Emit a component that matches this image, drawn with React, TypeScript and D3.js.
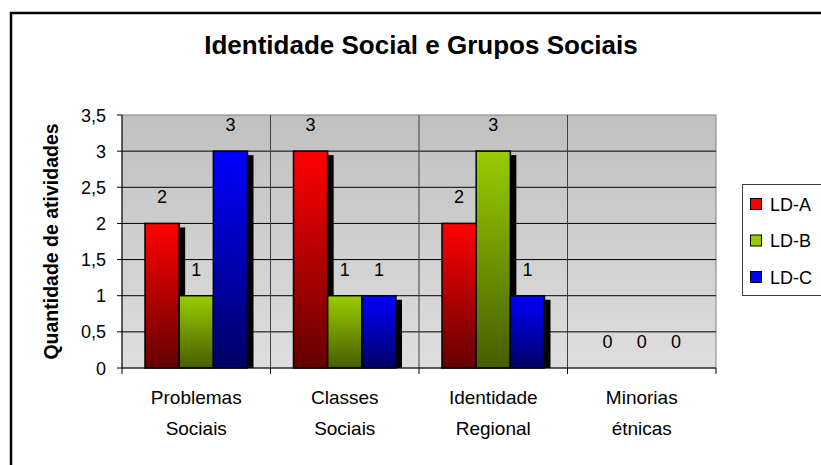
import React from 'react';
import * as d3 from 'd3';

const categories = [
  ['Problemas', 'Sociais'],
  ['Classes', 'Sociais'],
  ['Identidade', 'Regional'],
  ['Minorias', 'étnicas'],
];
const seriesNames = ['LD-A', 'LD-B', 'LD-C'];
const ldA = [2, 3, 2, 0];
const ldB = [1, 1, 3, 0];
const ldC = [3, 1, 1, 0];
const yTicks = [0, 0.5, 1, 1.5, 2, 2.5, 3, 3.5];

const seriesValues = [ldA, ldB, ldC];
const gradients = [
  ['#ff0000', '#640000'],
  ['#99cc00', '#465e00'],
  ['#0000ff', '#000064'],
];

const W = 821;
const H = 465;
const plot = { left: 122, right: 716, top: 115, bottom: 368 };
const font = '"Liberation Sans", Arial, sans-serif';

const App: React.FC = () => {
  const x = d3
    .scaleBand<number>()
    .domain(categories.map((_, i) => i))
    .range([plot.left, plot.right])
    .padding(0);
  const gap = 23;
  const xInner = d3
    .scaleBand<number>()
    .domain(seriesNames.map((_, i) => i))
    .range([gap, x.bandwidth() - gap])
    .padding(0);
  const y = d3.scaleLinear().domain([0, 3.5]).range([plot.bottom, plot.top]);
  const fmt = (v: number) => String(v).replace('.', ',');

  return (
    <svg
      width={W}
      height={H}
      style={{ position: 'absolute', left: 0, top: 0, background: '#fff' }}
      fontFamily={font}
    >
      <defs>
        <linearGradient id="bg" x1="0" y1="0" x2="0" y2="1">
          <stop offset="0" stopColor="#c0c0c0" />
          <stop offset="1" stopColor="#dedede" />
        </linearGradient>
        {gradients.map((g, i) => (
          <linearGradient key={i} id={`g${i}`} x1="0" y1="0" x2="0" y2="1">
            <stop offset="0" stopColor={g[0]} />
            <stop offset="1" stopColor={g[1]} />
          </linearGradient>
        ))}
      </defs>

      {/* outer frame */}
      <rect x={11} y={13} width={840} height={480} fill="#fff" stroke="#000" strokeWidth={2.5} />

      <text x={421} y={54} textAnchor="middle" fontSize={26} fontWeight="bold">
        Identidade Social e Grupos Sociais
      </text>

      {/* plot background */}
      <rect
        x={plot.left}
        y={plot.top}
        width={plot.right - plot.left}
        height={plot.bottom - plot.top}
        fill="url(#bg)"
        stroke="#808080"
      />

      {/* horizontal gridlines */}
      {yTicks.slice(1, -1).map(t => (
        <line key={t} x1={plot.left} x2={plot.right} y1={y(t)} y2={y(t)} stroke="#000" strokeWidth={1} />
      ))}
      {/* category separators */}
      {categories.slice(1).map((_, i) => (
        <line
          key={i}
          x1={x(i + 1)}
          x2={x(i + 1)}
          y1={plot.top}
          y2={plot.bottom}
          stroke="#404040"
          strokeWidth={1}
        />
      ))}

      {/* bars */}
      {categories.map((_, ci) => (
        <g key={ci} transform={`translate(${x(ci)},0)`}>
          {seriesValues.map((vals, si) =>
            vals[ci] > 0 ? (
              <rect
                key={`s${si}`}
                x={(xInner(si) ?? 0) + 6}
                y={y(vals[ci]) + 4}
                width={xInner.bandwidth()}
                height={y(0) - y(vals[ci]) - 4}
                fill="#000"
              />
            ) : null,
          )}
          {seriesValues.map((vals, si) =>
            vals[ci] > 0 ? (
              <rect
                key={`b${si}`}
                x={xInner(si)}
                y={y(vals[ci])}
                width={xInner.bandwidth()}
                height={y(0) - y(vals[ci])}
                fill={`url(#g${si})`}
                stroke="#000"
                strokeWidth={1.5}
              />
            ) : null,
          )}
          {seriesValues.map((vals, si) => (
            <text
              key={`t${si}`}
              x={(xInner(si) ?? 0) + xInner.bandwidth() / 2}
              y={y(vals[ci]) - 20}
              textAnchor="middle"
              fontSize={18}
            >
              {vals[ci]}
            </text>
          ))}
        </g>
      ))}

      {/* y axis */}
      <line x1={plot.left} x2={plot.left} y1={plot.top} y2={plot.bottom} stroke="#000" />
      {yTicks.map(t => (
        <g key={t}>
          <line x1={plot.left - 5} x2={plot.left} y1={y(t)} y2={y(t)} stroke="#000" />
          <text x={plot.left - 16} y={y(t) + 6.5} textAnchor="end" fontSize={18}>
            {fmt(t)}
          </text>
        </g>
      ))}
      <text
        transform={`translate(58,${(plot.top + plot.bottom) / 2}) rotate(-90)`}
        textAnchor="middle"
        fontSize={19.5}
        fontWeight="bold"
      >
        Quantidade de atividades
      </text>

      {/* x axis */}
      <line x1={plot.left} x2={plot.right} y1={plot.bottom} y2={plot.bottom} stroke="#000" />
      {categories.map((_, i) => (
        <line key={i} x1={x(i)} x2={x(i)} y1={plot.bottom} y2={plot.bottom + 6} stroke="#000" />
      ))}
      <line x1={plot.right} x2={plot.right} y1={plot.bottom} y2={plot.bottom + 6} stroke="#000" />
      {categories.map((c, i) => (
        <text key={i} x={(x(i) ?? 0) + x.bandwidth() / 2} textAnchor="middle" fontSize={19}>
          <tspan x={(x(i) ?? 0) + x.bandwidth() / 2} y={404}>
            {c[0]}
          </tspan>
          <tspan x={(x(i) ?? 0) + x.bandwidth() / 2} y={435}>
            {c[1]}
          </tspan>
        </text>
      ))}

      {/* legend */}
      <rect x={742.5} y={184.5} width={100} height={111} fill="#fff" stroke="#404040" />
      {seriesNames.map((n, i) => (
        <g key={n} transform={`translate(0,${204 + i * 36.5})`}>
          <rect x={750.5} y={-5.5} width={11} height={11} fill={gradients[i][0]} stroke="#000" />
          <text x={770} y={6.5} fontSize={18}>
            {n}
          </text>
        </g>
      ))}
    </svg>
  );
};

export default App;
